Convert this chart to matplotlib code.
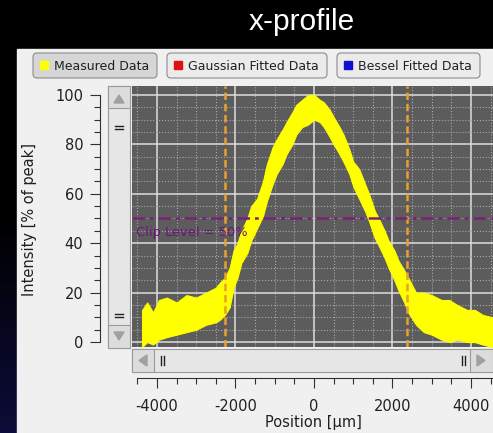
###############
## Libraries ##
###############

import numpy as np
import matplotlib as mpl
mpl.use( "Agg" )
import matplotlib.pyplot as plt
from matplotlib.patches import Rectangle, FancyBboxPatch, Polygon


##########
## Data ##
##########

## position of the profile samples [um]
position = [ -4380, -4250, -4100, -3950, -3750, -3500, -3250, -3000, -2750, -2500,
             -2400, -2270, -2150, -2050, -1950, -1850, -1700, -1600, -1450, -1300,
             -1200, -1050,  -950,  -800,  -700,  -550,  -450,  -300,  -150,     0,
               150,   250,   400,   500,   650,   750,   900,  1000,  1150,  1300,
              1400,  1550,  1650,  1800,  1900,  2050,  2150,  2300,  2400,  2600,
              2800,  3000,  3250,  3450,  3650,  3900,  4100,  4300,  4550 ]

## upper / lower edge of the noisy measured band [% of peak]
measured_hi = [ 13, 16, 12, 17, 18, 16, 19, 18, 20, 22,
                24, 26, 30, 37, 40, 45, 50, 55, 58, 65,
                72, 79, 82, 86, 89, 93, 96, 98, 100, 100,
                98, 97, 94, 91, 87, 84, 78, 73, 70, 64,
                60, 53, 50, 45, 41, 37, 33, 29, 26, 20,
                20, 19, 17, 17, 15, 13, 13, 11, 10 ]
measured_lo = [ -2, 0, -1, 1, 2, 3, 4, 5, 7, 8,
                9, 11, 14, 22, 26, 32, 36, 41, 46, 51,
                57, 64, 68, 72, 76, 80, 84, 87, 88, 90,
                89, 87, 83, 80, 76, 73, 68, 63, 58, 53,
                49, 42, 39, 34, 30, 25, 21, 16, 12, 7,
                4, 3, 1, 0, 1, 0, 0, -1, -2 ]

edges      = [ -2270, 2370 ]
clip_level = 50

xticks = [ -4000, -2000, 0, 2000, 4000 ]
yticks = [ 0, 20, 40, 60, 80, 100 ]
legend_labels = [ "Measured Data", "Gaussian Fitted Data", "Bessel Fitted Data" ]
legend_colors = [ "#ffff00", "#e01010", "#1010d0" ]


############
## Figure ##
############

W,H = 493,433
plt.rcParams["axes.unicode_minus"] = False
plt.rcParams["font.family"] = "DejaVu Sans"

fig = plt.figure( figsize = ( W / 100 , H / 100 ) , dpi = 100 )
fig.patch.set_facecolor( "black" )

def box( l , t , r , b ): ## pixel box -> figure fraction
	return [ l / W , 1 - b / H , ( r - l ) / W , ( b - t ) / H ]

## Background / GUI elements
bg = fig.add_axes( [0,0,1,1] )
bg.set_xlim( 0 , W )
bg.set_ylim( H , 0 )
bg.axis( "off" )
grad = np.linspace( 0 , 1 , 100 ).reshape(-1,1)
bg.imshow( grad , extent = ( 0 , 17 , 433 , 0 ) , cmap = mpl.colors.LinearSegmentedColormap.from_list( "s" , ["#000000","#000000","#0c0c38"] ) , aspect = "auto" )
bg.add_patch( Rectangle( (17,49) , W - 17 , H - 49 , color = "#f0f0f0" ) )
bg.text( 302 , 22 , "x-profile" , color = "white" , fontsize = 21.5 , family = "Liberation Sans" , ha = "center" , va = "center" )

## legend buttons
buttons = [ (33,157) , (167,327) , (337,480) ]
for i,(l,r) in enumerate(buttons):
	fc = "#d6d6d6" if i == 0 else "#ebebeb"
	bg.add_patch( FancyBboxPatch( (l,53) , r - l , 25 , boxstyle = "round,pad=0,rounding_size=4" , fc = fc , ec = "#8c8c8c" , lw = 0.8 ) )
	bg.add_patch( Rectangle( (l + 7,61) , 8 , 8 , color = legend_colors[i] ) )
	bg.text( l + 21 , 66 , legend_labels[i] , fontsize = 9 , color = "#202020" , va = "center" )

## vertical scrollbar
bg.add_patch( Rectangle( (108,86) , 22 , 262 , fc = "#e6e6e6" , ec = "#9a9a9a" , lw = 0.8 ) )
for (t,b) in [ (86,108) , (325,348) ]:
	bg.add_patch( Rectangle( (108,t) , 22 , b - t , fc = "#dcdcdc" , ec = "#9a9a9a" , lw = 0.8 ) )
bg.add_patch( Polygon( [ (114,103) , (124,103) , (119,95) ] , color = "#a0a0a0" ) )
bg.add_patch( Polygon( [ (114,332) , (124,332) , (119,340) ] , color = "#a0a0a0" ) )
for yg in [ 126 , 314 ]:
	bg.plot( [115,123] , [yg,yg] , color = "#202020" , lw = 1 )
	bg.plot( [115,123] , [yg+3,yg+3] , color = "#202020" , lw = 1 )

## horizontal scrollbar
bg.add_patch( Rectangle( (132,349) , W - 132 , 23 , fc = "#e6e6e6" , ec = "#9a9a9a" , lw = 0.8 ) )
for (l,r) in [ (132,154) , (470,493) ]:
	bg.add_patch( Rectangle( (l,349) , r - l , 23 , fc = "#dcdcdc" , ec = "#9a9a9a" , lw = 0.8 ) )
bg.add_patch( Polygon( [ (147,355) , (147,366) , (139,360.5) ] , color = "#a0a0a0" ) )
bg.add_patch( Polygon( [ (477,355) , (477,366) , (485,360.5) ] , color = "#a0a0a0" ) )
for xg in [ 161 , 462 ]:
	bg.plot( [xg,xg] , [356,365] , color = "#202020" , lw = 1 )
	bg.plot( [xg+3,xg+3] , [356,365] , color = "#202020" , lw = 1 )

## axis titles
bg.text( 30 , 219 , "Intensity [% of peak]" , fontsize = 10.5 , color = "#202020" , rotation = 90 , ha = "center" , va = "center" )
bg.text( 313 , 422 , "Position [µm]" , fontsize = 10.5 , color = "#202020" , ha = "center" , va = "center" )

## Plot area
xlim = ( -4637 , 4561 )
ylim = ( -2.0 , 103.6 )

ax = fig.add_axes( box( 132 , 86 , 493 , 347 ) )
ax.set_facecolor( "#5c5c5c" )
ax.set_xlim( xlim )
ax.set_ylim( ylim )
ax.set_xticks( xticks )
ax.set_yticks( yticks )
ax.set_xticks( np.arange( -4500 , 4600 , 500 ) , minor = True )
ax.set_yticks( np.arange( 0 , 105 , 5 ) , minor = True )
ax.grid( which = "minor" , color = "#a8a8a8" , linestyle = ":" , linewidth = 0.8 )
ax.grid( which = "major" , color = "#dedede" , linestyle = "-" , linewidth = 1.1 )
ax.tick_params( which = "both" , length = 0 , labelbottom = False , labelleft = False )
for s in ax.spines.values():
	s.set_visible(False)
ax.set_axisbelow( True )

ax.fill_between( position , measured_lo , measured_hi , color = "#ffff00" , lw = 0.8 , edgecolor = "#ffff00" , zorder = 3 )
for e in edges:
	ax.axvline( e , color = "#e8a030" , linestyle = (0,(3,1.5)) , lw = 1.8 , zorder = 4 )
ax.axhline( clip_level , color = "#78207a" , linestyle = (0,(5,2,1.5,2)) , lw = 1.8 , zorder = 4 )
ax.text( -4540 , 44.5 , "Clip Level = {}%".format(clip_level) , color = "#6e1478" , fontsize = 9.4 , va = "center" , zorder = 5 )

## separate y axis
ay = fig.add_axes( box( 100 , 86 , 101 , 347 ) )
ay.patch.set_visible(False)
ay.set_ylim( ylim )
ay.set_xticks([])
ay.set_yticks( yticks )
ay.set_yticks( np.arange( 0 , 105 , 5 ) , minor = True )
for k in ["top","right","bottom"]:
	ay.spines[k].set_visible(False)
ay.spines["left"].set_bounds( 0 , 100 )
ay.spines["left"].set_color( "#303030" )
ay.tick_params( which = "major" , length = 7 , width = 0.8 , color = "#303030" , labelsize = 10.5 , labelcolor = "#202020" , pad = 5 )
ay.tick_params( which = "minor" , length = 4 , width = 0.8 , color = "#303030" )

## separate x axis
axx = fig.add_axes( box( 132 , 370 , 493 , 378 ) )
axx.patch.set_visible(False)
axx.set_xlim( xlim )
axx.set_yticks([])
axx.set_xticks( xticks )
axx.set_xticks( np.arange( -4500 , 4600 , 500 ) , minor = True )
for k in ["top","right","left"]:
	axx.spines[k].set_visible(False)
axx.spines["bottom"].set_bounds( -4500 , xlim[1] )
axx.spines["bottom"].set_color( "#303030" )
axx.tick_params( which = "major" , length = 7 , width = 0.8 , color = "#303030" , labelsize = 10.5 , labelcolor = "#202020" , pad = 8 )
axx.tick_params( which = "minor" , length = 4 , width = 0.8 , color = "#303030" )

fig.savefig( "out.png" , dpi = 100 , facecolor = fig.get_facecolor() )
